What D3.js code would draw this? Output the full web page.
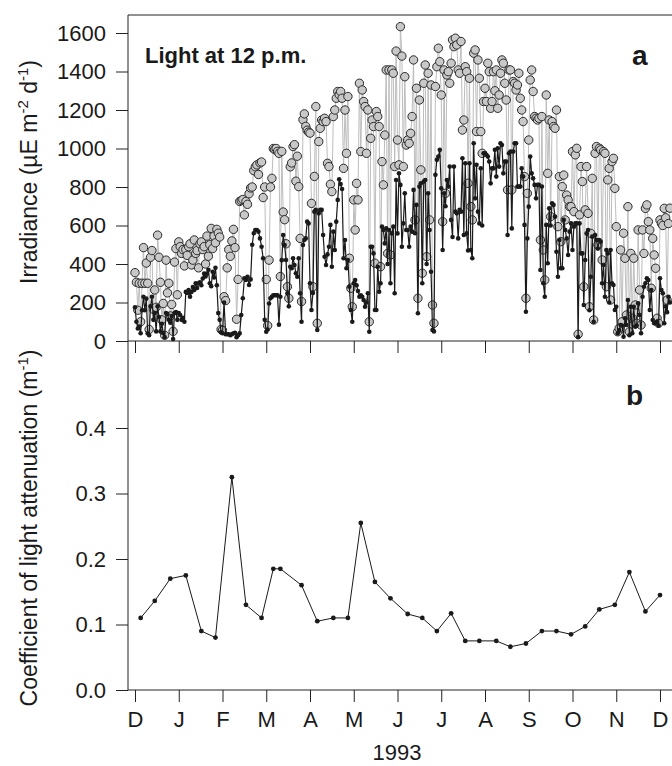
<!DOCTYPE html>
<html>
<head>
<meta charset="utf-8">
<script src="https://cdn.jsdelivr.net/npm/d3@7"></script>
<style>
body { margin: 0; background: #fff; }
text { font-family: "Liberation Sans", Arial, Helvetica, sans-serif; fill: #1a1a1a; }
</style>
</head>
<body>
<div id="vis"></div>
<script>
// month tick labels, Dec 1992 .. Dec 1993
var monthLabels = ['D', 'J', 'F', 'M', 'A', 'M', 'J', 'J', 'A', 'S', 'O', 'N', 'D'];

// daily light at 12 p.m., first value is 1 Dec 1992
var startDate = '1992-12-01';

// surface irradiance (grey circles), one line per month
var surface = [
	355,305,160,300,100,300,485,300,405,300,60,435,470,165,265,175,550,435,305,110,195,30,420,250,300,130,190,50,410,480,240,
	515,490,455,475,390,475,445,490,505,395,420,525,455,470,380,505,515,475,490,400,545,440,500,585,480,545,510,580,560,540,60,
	55,230,210,380,475,440,520,580,485,113,320,725,730,735,655,725,710,765,795,800,885,905,915,865,925,930,745,800,
	320,80,420,800,845,1000,995,1000,985,975,335,985,670,630,505,282,222,905,925,1010,1020,830,960,802,533,205,1150,1180,1115,1095,1085,
	1080,715,282,855,1218,92,1036,1105,1148,1140,1157,1140,923,906,814,776,1166,1200,1261,1296,1280,1296,1261,897,1200,975,1270,430,274,178,
	733,577,819,733,1339,984,1304,1244,1218,975,1200,100,1053,1148,1114,404,1192,1166,1114,386,932,811,1070,1408,455,1408,447,1408,1391,906,1506,
	1044,915,1633,1480,906,1373,1018,1044,1027,1079,1166,1460,629,1313,222,1252,889,352,1339,1434,438,1391,629,1330,187,92,1322,1425,1521,1451,
	1278,620,1408,767,1382,1399,1339,1443,1564,1529,1573,1538,1408,1391,1556,1096,1148,1425,1399,819,1365,698,629,1495,1512,1088,1460,1365,1088,975,1244,
	1313,1244,1443,1399,1209,1244,1399,1300,1408,1209,1278,1391,1460,1443,1339,1252,785,1408,1408,785,1348,1339,1304,1330,1391,1261,1200,1140,854,222,767,
	1044,1356,1408,1296,1166,1157,1148,1157,525,1166,473,317,1278,871,1148,646,1140,1114,1105,1200,594,854,516,802,862,629,758,733,698,698,
	984,672,967,1001,35,655,906,828,282,681,906,663,178,559,845,109,975,1010,499,1001,993,421,984,975,282,837,897,213,932,949,793,
	594,48,66,473,100,560,430,135,698,48,455,118,430,187,92,577,265,83,577,455,689,707,620,577,274,533,447,378,118,92,
	629,611,600,689,640,213,610,690
];

// underwater irradiance (black dots), one line per month
var underwater = [
	175,100,65,75,40,160,230,160,220,40,30,180,230,110,145,50,180,125,50,90,40,20,145,140,110,95,130,10,145,150,110,
	145,135,110,120,100,255,250,265,230,255,280,265,300,275,300,305,290,325,350,335,350,370,300,285,360,330,380,290,145,110,45,
	40,200,35,35,35,30,35,40,43,20,30,40,135,222,326,317,334,291,320,500,560,577,577,568,533,490,430,110,
	48,60,195,222,230,238,238,238,238,85,230,420,551,499,421,248,180,386,378,430,395,352,334,430,248,100,499,525,533,620,611,
	300,161,250,672,681,57,663,681,681,551,438,395,450,490,603,386,568,473,620,733,840,815,790,430,525,378,421,282,161,100,
	300,317,290,260,230,238,230,213,178,200,248,48,490,490,455,161,161,386,256,300,594,577,507,585,400,577,300,559,594,248,836,
	559,871,811,490,611,767,577,577,490,594,568,785,560,707,144,802,819,300,828,836,400,767,577,360,57,50,863,941,958,993,
	793,473,767,700,836,802,906,629,540,906,672,663,533,681,672,949,551,923,559,470,923,473,430,1027,741,915,672,611,897,600,975,
	975,967,958,932,819,897,897,993,854,1001,906,1027,1018,871,932,932,551,975,984,585,984,1027,1027,802,802,802,897,854,603,152,533,
	698,958,871,845,811,741,811,811,369,802,300,230,603,404,689,600,715,707,646,464,334,525,378,378,629,577,533,447,568,611,
	473,594,611,611,20,611,455,455,187,421,559,577,160,334,542,100,551,525,480,525,516,300,395,230,473,455,200,473,300,291,161,
	178,40,57,83,80,22,118,83,213,30,178,40,178,74,80,196,135,40,230,282,300,326,317,161,265,109,92,92,100,80,
	326,265,248,92,180,150,230,200
];

// coefficient of light attenuation (m-1)
var kDates = ['1992-12-05','1992-12-15','1992-12-26','1993-01-06','1993-01-17','1993-01-27',
	'1993-02-07','1993-02-16','1993-02-26','1993-03-06','1993-03-11','1993-03-26',
	'1993-04-06','1993-04-17','1993-04-27','1993-05-06','1993-05-16','1993-05-27',
	'1993-06-08','1993-06-18','1993-06-28','1993-07-08','1993-07-18','1993-07-28',
	'1993-08-09','1993-08-19','1993-08-30','1993-09-10','1993-09-20','1993-09-30',
	'1993-10-10','1993-10-20','1993-10-31','1993-11-10','1993-11-21','1993-12-01'];
var kValues = [0.110,0.136,0.170,0.175,0.090,0.080,
	0.325,0.130,0.110,0.185,0.185,0.160,
	0.105,0.110,0.110,0.255,0.165,0.140,
	0.116,0.110,0.090,0.117,0.075,0.075,
	0.075,0.066,0.071,0.090,0.090,0.085,
	0.097,0.123,0.130,0.180,0.120,0.145];

var yTopTicks = [0, 200, 400, 600, 800, 1000, 1200, 1400, 1600];
var yBotTicks = [0, 0.1, 0.2, 0.3, 0.4];

var width = 672, height = 766;
var axisX = 128, topY = 15;

var parse = d3.timeParse('%Y-%m-%d');

// months are drawn with equal width, so place a date as month index + fraction
function monthPos(d) {
	var m = (d.getFullYear() - 1992) * 12 + d.getMonth() - 11;
	var dim = new Date(d.getFullYear(), d.getMonth() + 1, 0).getDate();
	return m + (d.getDate() - 1) / dim;
}

var x = d3.scaleLinear().domain([0, 12]).range([135, 660]);
var yTop = d3.scaleLinear().domain([0, 1600]).range([341, 33]);
var yBot = d3.scaleLinear().domain([0, 0.4]).range([690, 428]);

var start = parse(startDate);
var daily = surface.map(function(v, i) {
	var d = d3.timeDay.offset(start, i);
	return {m: monthPos(d), s: v, u: underwater[i]};
});
var kData = kDates.map(function(s, i) {
	return {m: monthPos(parse(s)), k: kValues[i]};
});

var svg = d3.select('#vis')
	.append('svg')
	.attr('width', width)
	.attr('height', height);

// ---- panel a ----
var lineS = d3.line().x(function(d) { return x(d.m); }).y(function(d) { return yTop(d.s); });
var lineU = d3.line().x(function(d) { return x(d.m); }).y(function(d) { return yTop(d.u); });

svg.append('path')
	.datum(daily)
	.attr('d', lineS)
	.attr('fill', 'none')
	.attr('stroke', '#bdbdbd')
	.attr('stroke-width', 1);

svg.append('g')
	.selectAll('circle')
	.data(daily)
	.enter()
	.append('circle')
	.attr('cx', function(d) { return x(d.m); })
	.attr('cy', function(d) { return yTop(d.s); })
	.attr('r', 4.2)
	.attr('fill', '#c8c8c8')
	.attr('stroke', '#2a2a2a')
	.attr('stroke-width', 1);

svg.append('path')
	.datum(daily)
	.attr('d', lineU)
	.attr('fill', 'none')
	.attr('stroke', '#1a1a1a')
	.attr('stroke-width', 1.2);

svg.append('g')
	.selectAll('circle')
	.data(daily)
	.enter()
	.append('circle')
	.attr('cx', function(d) { return x(d.m); })
	.attr('cy', function(d) { return yTop(d.u); })
	.attr('r', 2.3)
	.attr('fill', '#1a1a1a');

// ---- panel b ----
var lineK = d3.line().x(function(d) { return x(d.m); }).y(function(d) { return yBot(d.k); });

svg.append('path')
	.datum(kData)
	.attr('d', lineK)
	.attr('fill', 'none')
	.attr('stroke', '#1a1a1a')
	.attr('stroke-width', 1);

svg.append('g')
	.selectAll('circle')
	.data(kData)
	.enter()
	.append('circle')
	.attr('cx', function(d) { return x(d.m); })
	.attr('cy', function(d) { return yBot(d.k); })
	.attr('r', 2.4)
	.attr('fill', '#1a1a1a');

// ---- axes ----
function styleAxis(g) {
	g.select('.domain').remove();
	g.selectAll('line').attr('stroke', '#222');
	g.selectAll('text').attr('font-size', '22px').attr('fill', '#1a1a1a')
		.style('font-family', '"Liberation Sans", Arial, sans-serif');
}

svg.append('g')
	.attr('transform', 'translate(' + axisX + ',0)')
	.call(d3.axisLeft(yTop).tickValues(yTopTicks).tickSize(12).tickPadding(10).tickFormat(d3.format('d')))
	.call(styleAxis);

svg.append('g')
	.attr('transform', 'translate(' + axisX + ',0)')
	.call(d3.axisLeft(yBot).tickValues(yBotTicks).tickSize(12).tickPadding(10).tickFormat(d3.format('.1f')))
	.call(styleAxis);

svg.append('g')
	.attr('transform', 'translate(0,' + yTop(0) + ')')
	.call(d3.axisBottom(x).tickValues(d3.range(13)).tickSize(12).tickFormat(''))
	.call(styleAxis);

svg.append('g')
	.attr('transform', 'translate(0,' + yBot(0) + ')')
	.call(d3.axisBottom(x).tickValues(d3.range(13)).tickSize(12).tickPadding(9)
		.tickFormat(function(i) { return monthLabels[i]; }))
	.call(styleAxis);

// frame lines
svg.append('line').attr('x1', axisX).attr('x2', axisX).attr('y1', topY).attr('y2', yBot(0))
	.attr('stroke', '#222');
svg.append('line').attr('x1', axisX).attr('x2', width).attr('y1', topY).attr('y2', topY)
	.attr('stroke', '#222');
svg.append('line').attr('x1', axisX).attr('x2', width).attr('y1', yTop(0)).attr('y2', yTop(0))
	.attr('stroke', '#222');
svg.append('line').attr('x1', axisX).attr('x2', width).attr('y1', yBot(0)).attr('y2', yBot(0))
	.attr('stroke', '#222');

// ---- labels ----
svg.append('text')
	.attr('x', 145).attr('y', 63)
	.attr('font-size', '22px').attr('font-weight', 'bold')
	.text('Light at 12 p.m.');

svg.append('text')
	.attr('x', 632).attr('y', 65)
	.attr('font-size', '28px').attr('font-weight', 'bold')
	.text('a');

svg.append('text')
	.attr('x', 626).attr('y', 405)
	.attr('font-size', '28px').attr('font-weight', 'bold')
	.text('b');

svg.append('text')
	.attr('x', 397).attr('y', 760)
	.attr('text-anchor', 'middle')
	.attr('font-size', '22px')
	.text('1993');

var t1 = svg.append('text')
	.attr('transform', 'translate(37,172) rotate(-90)')
	.attr('text-anchor', 'middle')
	.attr('font-size', '23px');
t1.append('tspan').text('Irradiance (\u00b5E m');
t1.append('tspan').attr('dy', -9).attr('font-size', '15px').text('-2');
t1.append('tspan').attr('dy', 9).text(' d');
t1.append('tspan').attr('dy', -9).attr('font-size', '15px').text('-1');
t1.append('tspan').attr('dy', 9).text(')');

var t2 = svg.append('text')
	.attr('transform', 'translate(37,528) rotate(-90)')
	.attr('text-anchor', 'middle')
	.attr('font-size', '23px');
t2.append('tspan').text('Coefficient of light attenuation (m');
t2.append('tspan').attr('dy', -9).attr('font-size', '15px').text('-1');
t2.append('tspan').attr('dy', 9).text(')');
</script>
</body>
</html>
